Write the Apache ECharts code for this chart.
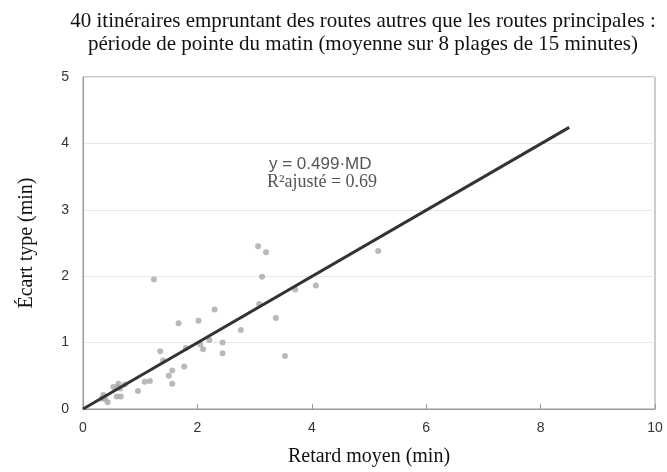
<!DOCTYPE html>
<html><head><meta charset="utf-8">
<script src="https://cdn.jsdelivr.net/npm/echarts@6/dist/echarts.min.js"></script>
<style>html,body{margin:0;padding:0;background:#fff}#c{width:667px;height:472px}</style>
</head><body><div id="c"></div>
<script>
const retardMoyen = [3.06,3.20,3.13,1.24,3.08,3.37,2.30,1.67,2.02,2.76,2.44,2.21,2.05,2.10,1.80,2.44,1.35,1.40,1.77,1.56,1.50,1.56,1.17,1.08,0.96,0.73,0.62,0.65,0.53,0.59,0.66,0.355,0.33,0.385,0.43,5.16,4.07,3.71,3.53,0.60];
const ecartType   = [2.45,2.36,1.99,1.95,1.58,1.37,1.50,1.29,1.33,1.19,1.00,1.04,0.97,0.90,0.92,0.84,0.87,0.73,0.64,0.58,0.50,0.38,0.42,0.41,0.27,0.37,0.38,0.31,0.33,0.19,0.19,0.21,0.16,0.15,0.10,2.38,1.86,1.80,0.80,0.33];
const pente = 0.499;
const xFinDroite = 8.5;
const xTicks = [0,2,4,6,8,10];
const yTicks = [0,1,2,3,4,5];

const points = retardMoyen.map((x,i)=>[x,ecartType[i]]);
const droite = [[0,0],[xFinDroite, pente*xFinDroite]];

const chart = echarts.init(document.getElementById('c'));
chart.setOption({
  animation:false,
  title:{
    text:'40 itinéraires empruntant des routes autres que les routes principales :\npériode de pointe du matin (moyenne sur 8 plages de 15 minutes)',
    left:358, top:5, textAlign:'center',
    textStyle:{fontFamily:'Liberation Serif',fontSize:21,fontWeight:'normal',color:'#111',lineHeight:23}
  },
  grid:{left:83,right:12,top:77,bottom:56,show:true,borderColor:'#999',borderWidth:1},
  xAxis:{
    type:'value',min:0,max:10,interval:2,
    name:'Retard moyen (min)',nameLocation:'middle',nameGap:38,
    nameTextStyle:{fontFamily:'Liberation Serif',fontSize:20,color:'#111'},
    axisLine:{lineStyle:{color:'#999'}},
    axisTick:{show:true,inside:true,length:5,lineStyle:{color:'#999'}},
    axisLabel:{fontFamily:'Liberation Sans',fontSize:14,color:'#333',margin:12},
    splitLine:{show:false}
  },
  yAxis:{
    type:'value',min:0,max:5,interval:1,
    name:'Écart type (min)',nameLocation:'middle',nameGap:46,
    nameTextStyle:{fontFamily:'Liberation Serif',fontSize:20,color:'#111'},
    axisLine:{show:true,lineStyle:{color:'#999'}},
    axisTick:{show:false},
    axisLabel:{fontFamily:'Liberation Sans',fontSize:14,color:'#333',margin:14},
    splitLine:{show:true,lineStyle:{color:'#e8e8e8'}}
  },
  series:[
    {type:'scatter',data:points,symbolSize:6,itemStyle:{color:'#a8a8a8'},z:2},
    {type:'line',data:droite,symbol:'none',lineStyle:{color:'#333',width:3},z:3}
  ],
  graphic:[
    {type:'text',left:269,top:156,style:{text:'y = 0.499·MD',font:'17px "Liberation Sans"',fill:'#555'}},
    {type:'text',left:267,top:173,style:{text:'R²ajusté = 0.69',font:'18px "Liberation Serif"',fill:'#555'}}
  ]
});
</script></body></html>
